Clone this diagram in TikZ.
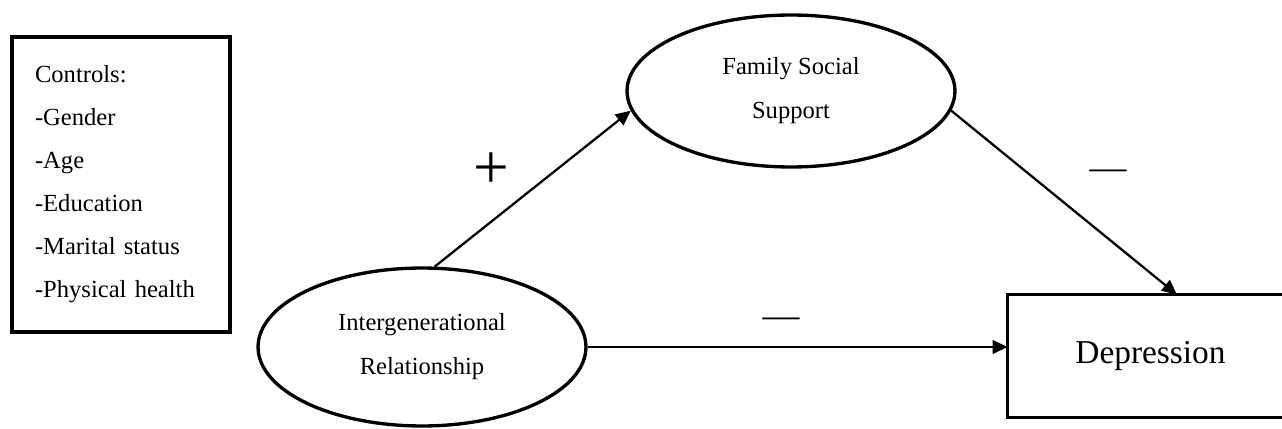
\documentclass[tikz,border=0pt]{standalone}
\usepackage{fontspec}
\setmainfont{Liberation Serif}
\usetikzlibrary{arrows.meta,shapes.geometric}

\begin{document}
\begin{tikzpicture}[
		x=0.02cm, y=-0.02cm,
		ctrlbox/.style={
			rectangle,
			draw=black,
			line width=2pt,
			minimum width=4.36cm,
			minimum height=5.9cm,
			text width=3.44cm,
			align=left,
			inner xsep=0.46cm,
			font=\fontsize{14}{24.5}\selectfont
		},
		latent/.style={
			ellipse,
			draw=black,
			line width=1.9pt,
			minimum width=6.56cm,
			align=center,
			font=\fontsize{14}{25}\selectfont
		},
		outbox/.style={
			rectangle,
			minimum width=6.2cm,
			minimum height=2.44cm,
			font=\fontsize{19}{23}\selectfont
		},
		boxline/.style={
			draw=black,
			line width=1.9pt
		},
		arrow/.style={
			-{Triangle[length=0.3cm,width=0.27cm]},
			draw=black,
			line width=1.3pt
		},
		sign/.style={
			inner sep=0pt
		}
		]
		
		\useasboundingbox (0,0) rectangle (1282,429);
		\coordinate (edge) at (1282,0);
		
		\node[ctrlbox] (ctrl) at (121,184.5)
		{Controls:\\-Gender\\-Age\\-Education\\-Marital status\\-Physical health};
		
		\node[latent, minimum height=3.04cm] (fss) at (791,91)
		{Family Social\\Support};
		
		\node[latent, minimum height=3.16cm] (ir) at (422,347)
		{Intergenerational\\Relationship};
		
		% box is cut by the right edge, as in the figure
		\node[outbox] (dep) at (1163,356) {Depression\hspace*{0.5cm}};
		\draw[boxline] (dep.north west -| edge) -- (dep.north west) -- (dep.south west) -- (dep.south west -| edge);
		
		\draw[arrow] (ir.81) -- (fss.187);
		\draw[arrow] (fss.353) -- ([xshift=0.28cm]dep.north);
		\draw[arrow] (ir.east) -- (ir.east -| dep.west);
		
		\node[sign, font=\fontsize{36}{36}\selectfont] (plus) at (491,171) {+};
		\node[sign, font=\fontsize{21}{21}\selectfont] (minus1) at (1108,175) {—};
		\node[sign, font=\fontsize{21}{21}\selectfont] (minus2) at (781,323) {—};
		
	\end{tikzpicture}
\end{document}
